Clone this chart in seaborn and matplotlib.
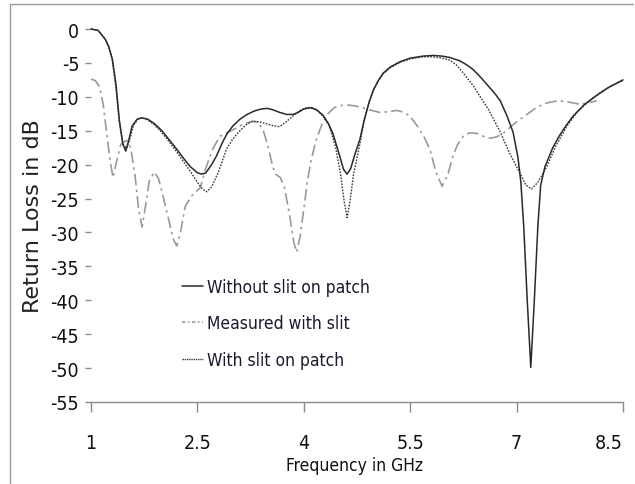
import numpy as np
import pandas as pd
import matplotlib
matplotlib.use("Agg")
import matplotlib.pyplot as plt
from matplotlib.lines import Line2D
import seaborn as sns

# ---- data ----
f_without = [1.0, 1.1, 1.2, 1.25, 1.3, 1.35, 1.4, 1.45, 1.49, 1.53, 1.58, 1.65, 1.72, 1.8, 1.9,
             2.0, 2.1, 2.2, 2.3, 2.4, 2.5, 2.56, 2.62, 2.7, 2.77, 2.85, 2.92, 3.0, 3.1, 3.2,
             3.3, 3.4, 3.48, 3.56, 3.66, 3.76, 3.85, 3.92, 4.0, 4.09, 4.18, 4.27, 4.35, 4.41,
             4.5, 4.56, 4.61, 4.66, 4.72, 4.79, 4.85, 4.92, 4.98, 5.05, 5.12, 5.22, 5.36, 5.5,
             5.68, 5.82, 5.95, 6.06, 6.2, 6.3, 6.39, 6.5, 6.6, 6.7, 6.77, 6.86, 6.95, 7.02,
             7.06, 7.1, 7.15, 7.2, 7.25, 7.3, 7.34, 7.4, 7.51, 7.6, 7.7, 7.8, 7.95, 8.1, 8.3, 8.5]
rl_without = [0.0, -0.2, -1.5, -2.6, -4.4, -8.0, -13.5, -17.0, -18.0, -16.5, -14.3, -13.3, -13.1,
              -13.3, -14.0, -15.0, -16.3, -17.6, -19.0, -20.3, -21.2, -21.4, -21.2, -20.0, -18.7,
              -16.8, -15.4, -14.3, -13.3, -12.6, -12.1, -11.8, -11.7, -11.9, -12.3, -12.6, -12.6,
              -12.3, -11.8, -11.6, -11.9, -12.7, -14.0, -15.4, -18.5, -20.7, -21.4, -20.6, -18.5,
              -16.3, -13.5, -10.8, -9.0, -7.6, -6.5, -5.6, -4.8, -4.3, -4.0, -3.9, -4.0, -4.2,
              -4.7, -5.3, -6.0, -7.2, -8.4, -9.6, -10.6, -12.7, -15.2, -19.0, -22.6, -29.0,
              -40.0, -49.9, -40.0, -29.0, -23.0, -20.3, -17.5, -15.8, -14.2, -12.8, -11.2,
              -10.0, -8.6, -7.5]

f_measured = [1.0, 1.06, 1.12, 1.17, 1.22, 1.27, 1.31, 1.35, 1.42, 1.5, 1.56, 1.62, 1.67, 1.72,
              1.77, 1.82, 1.89, 1.95, 2.0, 2.1, 2.16, 2.21, 2.27, 2.33, 2.42, 2.54, 2.62, 2.72,
              2.82, 2.92, 3.05, 3.15, 3.28, 3.36, 3.43, 3.5, 3.56, 3.6, 3.67, 3.73, 3.8, 3.86,
              3.9, 3.95, 4.0, 4.05, 4.1, 4.17, 4.25, 4.33, 4.43, 4.51, 4.6, 4.7, 4.83, 4.95,
              5.07, 5.2, 5.31, 5.42, 5.5, 5.6, 5.7, 5.78, 5.86, 5.95, 6.03, 6.1, 6.17, 6.25,
              6.34, 6.44, 6.55, 6.63, 6.72, 6.81, 6.93, 7.05, 7.17, 7.29, 7.43, 7.57, 7.7,
              7.89, 8.0, 8.13]
rl_measured = [-7.4, -7.6, -8.5, -11.0, -15.2, -19.5, -21.9, -20.0, -17.0, -16.4, -17.5, -21.5,
               -26.5, -29.2, -26.0, -22.5, -21.1, -22.0, -24.0, -28.3, -31.0, -32.0, -29.5,
               -26.1, -24.6, -23.4, -20.5, -17.6, -15.8, -15.3, -14.6, -14.0, -13.6, -13.8,
               -15.0, -17.5, -20.2, -21.4, -21.9, -23.5, -27.5, -31.5, -32.9, -30.5, -26.5,
               -22.5, -19.5, -16.5, -14.2, -12.6, -11.6, -11.3, -11.2, -11.3, -11.6, -12.0,
               -12.3, -12.2, -12.0, -12.3, -12.9, -14.3, -16.0, -17.8, -21.0, -23.2, -21.5,
               -18.8, -17.0, -15.8, -15.3, -15.4, -15.9, -16.1, -15.9, -15.4, -14.3, -13.3,
               -12.4, -11.5, -10.9, -10.6, -10.7, -11.1, -10.9, -10.6]

f_with = [1.0, 1.1, 1.2, 1.25, 1.3, 1.35, 1.4, 1.45, 1.5, 1.54, 1.6, 1.66, 1.72, 1.8, 1.9, 2.0,
          2.1, 2.2, 2.3, 2.4, 2.5, 2.57, 2.63, 2.7, 2.8, 2.91, 3.0, 3.1, 3.2, 3.28, 3.38, 3.48,
          3.58, 3.66, 3.75, 3.85, 3.95, 4.04, 4.12, 4.2, 4.28, 4.36, 4.45, 4.52, 4.57, 4.61,
          4.65, 4.7, 4.79, 4.85, 4.92, 4.98, 5.05, 5.12, 5.22, 5.36, 5.5, 5.68, 5.82, 5.95,
          6.06, 6.15, 6.25, 6.39, 6.5, 6.6, 6.77, 6.9, 7.05, 7.13, 7.21, 7.3, 7.43, 7.55,
          7.71, 7.85, 8.0, 8.2, 8.35, 8.5]
rl_with = [0.0, -0.2, -1.5, -2.6, -4.6, -8.5, -13.8, -17.0, -17.6, -16.5, -14.2, -13.3, -13.1,
           -13.4, -14.2, -15.3, -16.6, -18.0, -19.5, -21.0, -22.6, -23.6, -24.0, -23.3, -21.0,
           -17.7, -16.2, -15.0, -14.0, -13.6, -13.7, -14.0, -14.3, -14.4, -13.7, -12.8, -12.0,
           -11.6, -11.6, -12.1, -13.0, -14.3, -17.5, -21.5, -25.5, -27.8, -25.5, -21.5, -17.0,
           -13.5, -10.8, -9.1, -7.7, -6.6, -5.7, -4.9, -4.4, -4.1, -4.1, -4.3, -4.6, -5.3,
           -6.5, -8.4, -10.2, -11.8, -15.2, -18.3, -21.3, -23.0, -23.6, -22.6, -20.2, -17.3,
           -14.3, -12.3, -10.8, -9.2, -8.3, -7.6]

labels = ["Without slit on patch", "Measured with slit", "With slit on patch"]
x_ticks = [1, 2.5, 4, 5.5, 7, 8.5]
x_ticklabels = ["1", "2.5", "4", "5.5", "7", "8.5"]
y_ticks = list(range(-55, 1, 5))

# ---- figure ----
sns.set_style("white")
plt.rcParams["font.family"] = ["DejaVu Sans"]
plt.rcParams["font.stretch"] = "condensed"

W, H = 635, 485
fig = plt.figure(figsize=(W / 100, H / 100), dpi=100)
ax = fig.add_axes([91 / W, (H - 403) / H, 532 / W, 373 / H])

df1 = pd.DataFrame({"f": f_without, "rl": rl_without})
df2 = pd.DataFrame({"f": f_measured, "rl": rl_measured})
df3 = pd.DataFrame({"f": f_with, "rl": rl_with})

sns.lineplot(data=df2, x="f", y="rl", ax=ax, color="#9a9a9a", lw=1.2,
             linestyle=(0, (7, 2.5, 1.5, 2.5)), label=labels[1], sort=False)
sns.lineplot(data=df3, x="f", y="rl", ax=ax, color="#3a3a3a", lw=1.0,
             linestyle=(0, (1.2, 1.0)), label=labels[2], sort=False)
sns.lineplot(data=df1, x="f", y="rl", ax=ax, color="#2a2a2a", lw=1.1,
             linestyle="-", label=labels[0], sort=False)
for ln in ax.lines:
    ln.set_clip_on(False)

ax.set_xlim(1, 8.5)
ax.set_ylim(-55, 0)
ax.set_xticks(x_ticks)
ax.set_xticklabels(x_ticklabels)
ax.set_yticks(y_ticks)
ax.set_yticklabels([str(v) for v in y_ticks])

for s in ["top", "right", "left"]:
    ax.spines[s].set_visible(False)
ax.spines["bottom"].set_color("#8c8c8c")
ax.spines["bottom"].set_linewidth(1.0)

ax.tick_params(axis="x", direction="out", length=7, width=1, color="#8c8c8c",
               pad=15, labelsize=14, labelcolor="#111111", bottom=True)
ax.tick_params(axis="y", direction="out", length=4.5, width=1, color="#8c8c8c",
               pad=4, labelsize=14, labelcolor="#111111", left=True)
for lbl in ax.get_xticklabels() + ax.get_yticklabels():
    lbl.set_stretch("condensed")
ax.get_xticklabels()[-1].set_ha("right")
ax.get_xticklabels()[-1].set_x(8.5)

ax.set_xlabel("Frequency in GHz", fontsize=12.5, color="#111111")
ax.xaxis.set_label_coords(0.496, -0.169)
ax.xaxis.label.set_va("center")
ax.set_ylabel("Return Loss in dB", fontsize=16, color="#222222", stretch="normal")
ax.yaxis.set_label_coords(-0.109, 0.5)
ax.yaxis.label.set_va("center")

handles = [Line2D([], [], color="#2a2a2a", lw=1.1, linestyle="-"),
           Line2D([], [], color="#9a9a9a", lw=1.2, linestyle=(0, (2, 1.5, 1, 1.5))),
           Line2D([], [], color="#3a3a3a", lw=1.0, linestyle=(0, (1, 0.6)))]
leg = ax.legend(handles, labels, loc="upper left", bbox_to_anchor=(0.171, 0.332),
                frameon=False, fontsize=12.5, handlelength=1.2, handletextpad=0.25,
                labelspacing=1.05, borderpad=0, borderaxespad=0)
for t in leg.get_texts():
    t.set_color("#1a1a2e")

# outer chart-area border (left and top edges)
fig.add_artist(Line2D([10 / W, 10 / W], [0, 1 - 5 / H], transform=fig.transFigure,
                      color="#9a9a9a", lw=1.0))
fig.add_artist(Line2D([10 / W, 633 / W], [1 - 5 / H, 1 - 5 / H], transform=fig.transFigure,
                      color="#9a9a9a", lw=1.0))

fig.savefig("out.png", dpi=100)
